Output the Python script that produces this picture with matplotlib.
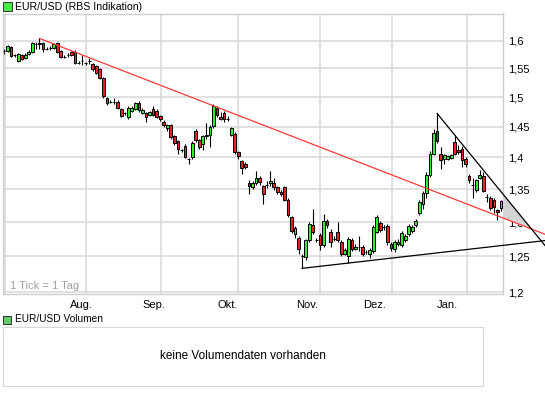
import numpy as np
import matplotlib
matplotlib.use('Agg')
import matplotlib.pyplot as plt
from matplotlib.patches import Rectangle
from matplotlib.ticker import FixedLocator, NullFormatter

plt.rcParams['font.family'] = ['Liberation Sans', 'DejaVu Sans']

# daily EUR/USD candles, Jul 2008 - Jan 2009
opens = [1.581, 1.581, 1.589, 1.573, 1.563, 1.573, 1.569, 1.576, 1.579, 1.593,
         1.594, 1.596, 1.585, 1.587, 1.587, 1.596, 1.581, 1.571, 1.574, 1.579,
         1.580, 1.560, 1.563, 1.559, 1.563, 1.557, 1.554, 1.548, 1.533, 1.498,
         1.492, 1.492, 1.492, 1.480, 1.472, 1.466, 1.476, 1.480, 1.490, 1.473,
         1.472, 1.470, 1.480, 1.477, 1.467, 1.458, 1.447, 1.452, 1.434, 1.426,
         1.411, 1.419, 1.397, 1.401, 1.442, 1.428, 1.422, 1.434, 1.437, 1.451,
         1.481, 1.466, 1.473, 1.463, 1.437, 1.438, 1.408, 1.394, 1.390, 1.359,
         1.353, 1.360, 1.367, 1.355, 1.357, 1.359, 1.360, 1.353, 1.346, 1.353,
         1.334, 1.307, 1.282, 1.277, 1.250, 1.249, 1.273, 1.295, 1.273, 1.281,
         1.266, 1.302, 1.285, 1.275, 1.285, 1.271, 1.254, 1.251, 1.274, 1.261,
         1.263, 1.263, 1.256, 1.253, 1.258, 1.286, 1.298, 1.292, 1.294, 1.268,
         1.261, 1.268, 1.267, 1.274, 1.283, 1.287, 1.295, 1.313, 1.327, 1.344,
         1.372, 1.406, 1.442, 1.406, 1.398, 1.398, 1.399, 1.425, 1.412, 1.414,
         1.398, 1.370, 1.356, 1.348, 1.368, 1.371, 1.338, 1.337, 1.333, 1.318,
         1.321]
highs = [1.585, 1.592, 1.591, 1.576, 1.578, 1.576, 1.577, 1.583, 1.598, 1.597,
         1.604, 1.598, 1.588, 1.591, 1.595, 1.598, 1.583, 1.574, 1.578, 1.581,
         1.582, 1.563, 1.574, 1.562, 1.568, 1.559, 1.556, 1.550, 1.535, 1.500,
         1.495, 1.499, 1.495, 1.482, 1.475, 1.484, 1.485, 1.492, 1.493, 1.481,
         1.474, 1.477, 1.484, 1.479, 1.469, 1.461, 1.455, 1.455, 1.436, 1.428,
         1.414, 1.421, 1.399, 1.426, 1.446, 1.430, 1.437, 1.456, 1.452, 1.488,
         1.484, 1.475, 1.476, 1.467, 1.449, 1.441, 1.410, 1.396, 1.392, 1.364,
         1.363, 1.379, 1.370, 1.357, 1.362, 1.378, 1.368, 1.355, 1.349, 1.355,
         1.336, 1.309, 1.294, 1.279, 1.253, 1.275, 1.300, 1.320, 1.276, 1.284,
         1.312, 1.304, 1.290, 1.280, 1.300, 1.274, 1.262, 1.278, 1.277, 1.268,
         1.280, 1.266, 1.259, 1.262, 1.295, 1.311, 1.302, 1.295, 1.297, 1.271,
         1.273, 1.275, 1.287, 1.283, 1.297, 1.296, 1.304, 1.333, 1.347, 1.376,
         1.410, 1.446, 1.472, 1.416, 1.406, 1.404, 1.406, 1.437, 1.420, 1.418,
         1.401, 1.373, 1.367, 1.366, 1.380, 1.376, 1.343, 1.340, 1.336, 1.320,
         1.334]
lows = [1.575, 1.579, 1.570, 1.570, 1.561, 1.564, 1.566, 1.574, 1.577, 1.585,
        1.585, 1.579, 1.582, 1.582, 1.585, 1.577, 1.568, 1.568, 1.571, 1.572,
        1.558, 1.557, 1.556, 1.556, 1.557, 1.546, 1.540, 1.531, 1.498, 1.486,
        1.489, 1.488, 1.479, 1.466, 1.469, 1.463, 1.474, 1.478, 1.475, 1.471,
        1.458, 1.468, 1.468, 1.464, 1.460, 1.449, 1.443, 1.430, 1.420, 1.405,
        1.408, 1.399, 1.389, 1.398, 1.425, 1.414, 1.412, 1.430, 1.416, 1.447,
        1.466, 1.461, 1.458, 1.459, 1.434, 1.405, 1.398, 1.373, 1.382, 1.343,
        1.350, 1.357, 1.356, 1.327, 1.352, 1.355, 1.349, 1.342, 1.339, 1.331,
        1.308, 1.284, 1.276, 1.254, 1.233, 1.245, 1.270, 1.282, 1.270, 1.259,
        1.263, 1.291, 1.263, 1.272, 1.270, 1.251, 1.252, 1.241, 1.258, 1.259,
        1.258, 1.251, 1.253, 1.248, 1.255, 1.284, 1.285, 1.289, 1.267, 1.258,
        1.256, 1.265, 1.264, 1.270, 1.280, 1.284, 1.292, 1.310, 1.320, 1.337,
        1.369, 1.403, 1.423, 1.382, 1.390, 1.396, 1.397, 1.404, 1.406, 1.385,
        1.385, 1.360, 1.337, 1.345, 1.365, 1.345, 1.330, 1.318, 1.314, 1.303,
        1.317]
closes = [1.581, 1.590, 1.572, 1.573, 1.576, 1.567, 1.574, 1.580, 1.596, 1.594,
          1.595, 1.585, 1.585, 1.587, 1.593, 1.579, 1.571, 1.571, 1.574, 1.574,
          1.560, 1.560, 1.563, 1.559, 1.563, 1.548, 1.542, 1.533, 1.502, 1.490,
          1.492, 1.492, 1.482, 1.468, 1.472, 1.482, 1.482, 1.490, 1.478, 1.478,
          1.466, 1.474, 1.470, 1.466, 1.463, 1.452, 1.452, 1.433, 1.423, 1.413,
          1.411, 1.401, 1.397, 1.423, 1.428, 1.417, 1.434, 1.437, 1.450, 1.484,
          1.469, 1.463, 1.463, 1.463, 1.447, 1.409, 1.402, 1.383, 1.385, 1.355,
          1.360, 1.367, 1.361, 1.342, 1.357, 1.363, 1.353, 1.346, 1.342, 1.334,
          1.311, 1.287, 1.291, 1.261, 1.250, 1.273, 1.297, 1.285, 1.273, 1.266,
          1.302, 1.295, 1.270, 1.275, 1.273, 1.254, 1.259, 1.275, 1.261, 1.264,
          1.263, 1.254, 1.256, 1.259, 1.292, 1.307, 1.288, 1.292, 1.270, 1.262,
          1.270, 1.271, 1.284, 1.280, 1.294, 1.293, 1.301, 1.330, 1.344, 1.372,
          1.406, 1.439, 1.426, 1.395, 1.403, 1.402, 1.403, 1.406, 1.409, 1.395,
          1.389, 1.364, 1.356, 1.364, 1.372, 1.347, 1.338, 1.321, 1.323, 1.315,
          1.331]

month_labels = ['Aug.', 'Sep.', 'Okt.', 'Nov.', 'Dez.', 'Jan.']
month_label_pos = [21.7, 42.3, 63.1, 85.4, 104.5, 124.8]
month_grid_pos = [23.1, 44.2, 65.9, 89.0, 109.3, 130.4]
price_ticks = [1.2, 1.25, 1.3, 1.35, 1.4, 1.45, 1.5, 1.55, 1.6]

# trend lines (candle index, price)
resist_line = ([10, 152.4], [1.604, 1.282])
upper_line = ([122, 152.4], [1.472, 1.2655])
support_line = ([84, 152.4], [1.233, 1.2728])

W, H = 545, 395
def fx(px):
    return px / W
def fy(py):
    return 1 - py / H

fig = plt.figure(figsize=(W / 100, H / 100), dpi=100)
ax = fig.add_axes([fx(3), fy(293.5), fx(503) - fx(3), fy(13.5) - fy(293.5)])

grid_c = '#d8d8d8'
ax.set_yscale('log')
ax.set_ylim(1.198, 1.6504)
n = len(closes)
ax.set_xlim(-0.28, n - 1 + 0.56)

# grid
for g in price_ticks:
    ax.axhline(g, color=grid_c, lw=1.1, zorder=0)
for g in month_grid_pos:
    ax.axvline(g, color=grid_c, lw=1.1, zorder=0)
ax.axvline(0.28, color=grid_c, lw=1.1, zorder=0)

x = np.arange(n)
o = np.array(opens)
c = np.array(closes)
up = c >= o
ax.vlines(x, lows, highs, color='black', lw=0.8, zorder=2)
ax.bar(x, np.abs(c - o), bottom=np.minimum(o, c), width=0.78,
       color=np.where(up, '#33ee33', '#e82424'), edgecolor='black',
       linewidth=0.7, zorder=3)

# trend lines, running past the plot edge
ax.plot(*resist_line, color='#ff3b3b', lw=0.9, clip_on=False, zorder=4)
ax.plot(*upper_line, color='black', lw=0.9, clip_on=False, zorder=4)
ax.plot(*support_line, color='black', lw=0.9, clip_on=False, zorder=4)

# grey wedge between the red line and the falling black line
def line_at(line, xv):
    (x0, x1), (p0, p1) = line
    t = (xv - x0) / (x1 - x0)
    return np.exp(np.log(p0) + t * (np.log(p1) - np.log(p0)))

def slope(line):
    (x0, x1), (p0, p1) = line
    a = (np.log(p1) - np.log(p0)) / (x1 - x0)
    return a, np.log(p0) - x0 * a

a1, b1 = slope(resist_line)
a2, b2 = slope(upper_line)
xi = (b2 - b1) / (a1 - a2)
xr = ax.get_xlim()[1]
ax.fill([xr, xr, xi], [line_at(resist_line, xr), line_at(upper_line, xr), line_at(resist_line, xi)],
        color='#d4d4d4', lw=0, clip_on=False, zorder=3.5)

ax.yaxis.tick_right()
ax.yaxis.set_major_locator(FixedLocator(price_ticks))
ax.yaxis.set_minor_locator(FixedLocator([]))
ax.set_yticklabels([('%g' % v).replace('.', ',') for v in price_ticks])
ax.tick_params(axis='y', which='both', length=0, pad=3.6, labelsize=8)

ax.xaxis.set_major_locator(FixedLocator(month_grid_pos))
ax.xaxis.set_major_formatter(NullFormatter())
ax.xaxis.set_minor_locator(FixedLocator(month_label_pos))
ax.set_xticklabels(month_labels, minor=True)
ax.tick_params(axis='x', which='both', length=0, pad=5, labelsize=8)

for s in ax.spines.values():
    s.set_color('#cfcfcf')
    s.set_linewidth(1.0)

fig.text(fx(10), fy(286), '1 Tick = 1 Tag', color='#a0a0a0', fontsize=8, va='center')

# headers
fig.patches.append(Rectangle((fx(3), fy(11)), fx(9), 9 / H, transform=fig.transFigure,
                             facecolor='#44ee44', edgecolor='#333333', lw=0.7))
fig.text(fx(15), fy(6.5), 'EUR/USD (RBS Indikation)', fontsize=7.6, va='center')
fig.patches.append(Rectangle((fx(3), fy(323.5)), fx(8), 8 / H, transform=fig.transFigure,
                             facecolor='#66cc66', edgecolor='#333333', lw=0.7))
fig.text(fx(15), fy(319.5), 'EUR/USD Volumen', fontsize=7.3, va='center')

# empty volume panel
vax = fig.add_axes([fx(3), fy(386), fx(483) - fx(3), fy(326.7) - fy(386)])
vax.set_xticks([])
vax.set_yticks([])
for s in vax.spines.values():
    s.set_color('#d8d8d8')
vax.text(0.5, 0.5, 'keine Volumendaten vorhanden', ha='center', va='center',
         fontsize=8.5, transform=vax.transAxes)

fig.savefig('out.png', dpi=100)
